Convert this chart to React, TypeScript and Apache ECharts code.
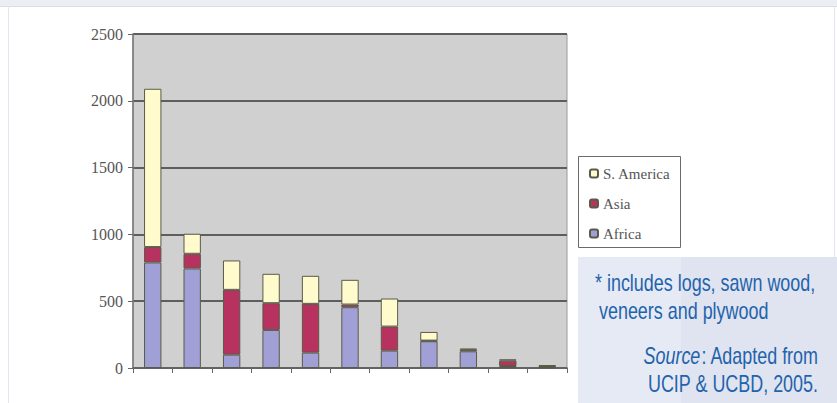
import React, { useEffect, useRef } from "react";
import * as echarts from "echarts";

const categories = ["1", "2", "3", "4", "5", "6", "7", "8", "9", "10", "11"];
const africa = [790, 745, 100, 285, 115, 455, 130, 200, 125, 15, 5];
const asia = [115, 110, 485, 200, 365, 20, 180, 5, 12, 40, 10];
const sAmerica = [1185, 150, 220, 220, 210, 185, 210, 65, 8, 10, 5];
const yTicks = [0, 500, 1000, 1500, 2000, 2500];
const noteLines = ["* includes logs, sawn wood,", "veneers and plywood"];
const sourceLines = ["Adapted from", "UCIP & UCBD, 2005."];

export default function App() {
  const ref = useRef<HTMLDivElement>(null);
  useEffect(() => {
    document.body.style.margin = "0";
    const chart = echarts.init(ref.current!, null, { renderer: "svg" });
    const serif = "'Liberation Serif', 'DejaVu Serif', serif";
    const sans = "'Liberation Sans', sans-serif";
    const blue = "#1f63ac";
    const border = "#5a5a4a";
    const sx = 0.78;
    const noteStyle = { fontFamily: sans, fontSize: 23, fill: blue, verticalAlign: "middle" };
    chart.setOption({
      animation: false,
      backgroundColor: "#ffffff",
      grid: {
        left: 133,
        right: 270,
        top: 34,
        bottom: 35,
        show: true,
        backgroundColor: "#d0d0d0",
        borderColor: "#9a9a9a",
        borderWidth: 1,
      },
      xAxis: {
        type: "category",
        data: categories,
        axisLabel: { show: false },
        axisLine: { lineStyle: { color: "#666", width: 1.5 } },
        axisTick: { show: true, length: 5, lineStyle: { color: "#666" } },
      },
      yAxis: {
        type: "value",
        min: yTicks[0],
        max: yTicks[yTicks.length - 1],
        interval: 500,
        axisLine: { show: true, lineStyle: { color: "#777", width: 1.5 } },
        axisTick: { show: true, length: 5, lineStyle: { color: "#666" } },
        axisLabel: {
          fontFamily: serif,
          fontSize: 16,
          color: "#555",
          margin: 10,
          formatter: (v: number) => String(v),
        },
        splitLine: { lineStyle: { color: "#5e5e5e", width: 2 } },
      },
      legend: {
        data: ["S. America", "Asia", "Africa"],
        orient: "vertical",
        left: 584,
        top: 161,
        itemWidth: 8,
        itemHeight: 8,
        itemGap: 15,
        textStyle: { fontFamily: serif, fontSize: 15, color: "#555" },
      },
      series: [
        {
          name: "Africa",
          type: "bar",
          stack: "total",
          data: africa,
          barWidth: "44%",
          itemStyle: { color: "#a0a0d6", borderColor: border, borderWidth: 1 },
        },
        {
          name: "Asia",
          type: "bar",
          stack: "total",
          data: asia,
          itemStyle: { color: "#b8325f", borderColor: border, borderWidth: 1 },
        },
        {
          name: "S. America",
          type: "bar",
          stack: "total",
          data: sAmerica,
          itemStyle: { color: "#fffbcc", borderColor: border, borderWidth: 1 },
        },
      ],
      graphic: [
        { type: "rect", shape: { x: 0, y: 0, width: 837, height: 6 }, style: { fill: "#eceef4" }, z: -1 },
        { type: "line", shape: { x1: 0, y1: 6.5, x2: 837, y2: 6.5 }, style: { stroke: "#d6dcea", lineWidth: 1 } },
        { type: "line", shape: { x1: 8.5, y1: 6, x2: 8.5, y2: 403 }, style: { stroke: "#e2e6f0", lineWidth: 1 } },
        { type: "line", shape: { x1: 834.5, y1: 6, x2: 834.5, y2: 403 }, style: { stroke: "#e2e6f0", lineWidth: 1 } },
        { type: "rect", shape: { x: 578.5, y: 156.5, width: 102, height: 91 }, style: { fill: "transparent", stroke: "#6a6a6a", lineWidth: 1 } },
        { type: "rect", shape: { x: 578, y: 257, width: 259, height: 146 }, style: { fill: "#dfe4f0" } },
        { type: "rect", shape: { x: 578, y: 257, width: 103, height: 146 }, style: { fill: "#e6eaf4" } },
        {
          type: "text",
          x: 595,
          y: 283,
          scaleX: sx,
          style: { ...noteStyle, text: noteLines[0] },
        },
        {
          type: "text",
          x: 599,
          y: 311,
          scaleX: sx,
          style: { ...noteStyle, text: noteLines[1] },
        },
        {
          type: "text",
          x: 818,
          y: 356,
          scaleX: sx,
          style: {
            ...noteStyle,
            text: "{i|Source}: " + sourceLines[0],
            align: "right",
            rich: { i: { fontFamily: sans, fontSize: 23, fontStyle: "italic", fill: blue } },
          },
        },
        {
          type: "text",
          x: 818,
          y: 384,
          scaleX: sx,
          style: { ...noteStyle, text: sourceLines[1], align: "right" },
        },
      ],
    });
    return () => chart.dispose();
  }, []);
  return <div ref={ref} style={{ width: 837, height: 403, position: "absolute", left: 0, top: 0 }} />;
}
